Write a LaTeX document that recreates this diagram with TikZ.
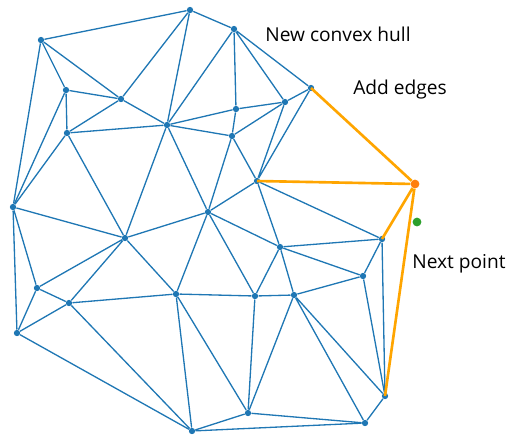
\documentclass[tikz,border=0pt]{standalone}
\usepackage{fontspec}
\setmainfont{Open Sans}
\definecolor{triblue}{HTML}{1F77B4}
\definecolor{hullorange}{HTML}{FFA500}
\definecolor{newpt}{HTML}{FF7F0E}
\definecolor{nextpt}{HTML}{2CA02C}
\tikzset{
  pt/.style={circle, fill=triblue, inner sep=0pt, minimum size=3.6pt},
  edge/.style={triblue, line width=0.75pt},
  hulledge/.style={hullorange, line width=1.5pt},
  label/.style={anchor=base west, inner sep=0pt, font=\fontsize{10.9}{12}\selectfont}
}
\begin{document}
\begin{tikzpicture}[x=0.02cm, y=-0.02cm]
        \useasboundingbox (0,0) rectangle (510,437);

        % Points of the triangulation
        \node[pt] (a) at (190,10) {};
        \node[pt] (b) at (234,29) {};
        \node[pt] (c) at (41,40) {};
        \node[pt] (d) at (66,90) {};
        \node[pt] (e) at (121,99) {};
        \node[pt] (f) at (67,133) {};
        \node[pt] (g) at (167,125) {};
        \node[pt] (h) at (236,109) {};
        \node[pt] (i) at (232,136) {};
        \node[pt] (j) at (257,181) {};
        \node[pt] (k) at (208,212) {};
        \node[pt] (l) at (13,207) {};
        \node[pt] (m) at (311,88) {};
        \node[pt] (n) at (285,102) {};
        \node[pt] (p) at (125,238) {};
        \node[pt] (q) at (37,288) {};
        \node[pt] (r) at (69,303) {};
        \node[pt] (s) at (176,294) {};
        \node[pt] (t) at (255,296) {};
        \node[pt] (u) at (17,333) {};
        \node[pt] (v) at (248,413) {};
        \node[pt] (w) at (192,431) {};
        \node[pt] (y) at (382,239) {};
        \node[pt] (z) at (280,247) {};
        \node[pt] (aa) at (363,276) {};
        \node[pt] (bb) at (294,295) {};
        \node[pt] (cc) at (385,396) {};
        \node[pt] (dd) at (365,423) {};

        % Edges of the triangulation
        \draw[edge] (a) -- (c) (a) -- (b) (a) -- (e) (a) -- (g);
        \draw[edge] (b) -- (g) (b) -- (h) (b) -- (m) (b) -- (n);
        \draw[edge] (c) -- (d) (c) -- (e) (c) -- (l);
        \draw[edge] (d) -- (e) (d) -- (f) (d) -- (l);
        \draw[edge] (e) -- (f) (e) -- (g);
        \draw[edge] (f) -- (g) (f) -- (l) (f) -- (p);
        \draw[edge] (g) -- (h) (g) -- (i) (g) -- (k) (g) -- (p);
        \draw[edge] (h) -- (i) (h) -- (n);
        \draw[edge] (i) -- (n) (i) -- (j) (i) -- (k);
        \draw[edge] (j) -- (n) (j) -- (m) (j) -- (k) (j) -- (z) (j) -- (y);
        \draw[edge] (m) -- (n);
        \draw[edge] (k) -- (p) (k) -- (s) (k) -- (t) (k) -- (z);
        \draw[edge] (l) -- (p) (l) -- (q) (l) -- (u);
        \draw[edge] (p) -- (q) (p) -- (r) (p) -- (s);
        \draw[edge] (q) -- (r) (q) -- (u);
        \draw[edge] (r) -- (u) (r) -- (s) (r) -- (w);
        \draw[edge] (s) -- (t) (s) -- (w) (s) -- (v);
        \draw[edge] (t) -- (z) (t) -- (bb) (t) -- (v);
        \draw[edge] (u) -- (w);
        \draw[edge] (v) -- (w) (v) -- (bb) (v) -- (dd);
        \draw[edge] (w) -- (dd);
        \draw[edge] (y) -- (z) (y) -- (aa) (y) -- (cc);
        \draw[edge] (z) -- (aa) (z) -- (bb);
        \draw[edge] (aa) -- (bb) (aa) -- (cc);
        \draw[edge] (bb) -- (cc) (bb) -- (dd);
        \draw[edge] (cc) -- (dd);

        % New point and the edges added to it
        \node[circle, fill=newpt, inner sep=0pt, minimum size=5pt] (o) at (415,184) {};
        \draw[hulledge] (o) -- (j.center) (o) -- (m.center) (o) -- (y.center) (o) -- (cc.center);

        % Next point
        \node[circle, fill=nextpt, inner sep=0pt, minimum size=5pt] (next) at (417,222) {};

        % Labels
        \node[label] (hull) at (265,41) {New convex hull};
        \node[label] (add) at (353,94) {Add edges};
        \node[label] (nextlabel) at (412,268) {Next point};
    \end{tikzpicture}
\end{document}
